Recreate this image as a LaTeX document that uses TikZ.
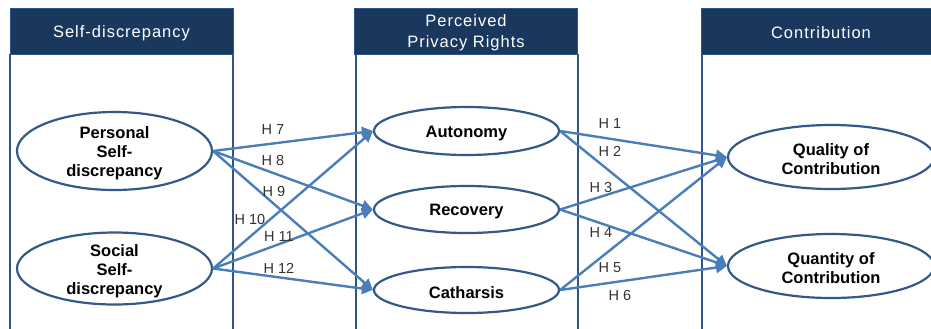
\documentclass[tikz,border=0pt]{standalone}
\usepackage{fontspec}
\setmainfont{Liberation Sans}
\usetikzlibrary{shapes.geometric,arrows.meta}

\definecolor{hdrblue}{RGB}{26,56,94}
\definecolor{panelblue}{RGB}{47,84,140}
\definecolor{ellblue}{RGB}{52,88,138}
\definecolor{arrblue}{RGB}{74,126,187}
\definecolor{labgray}{RGB}{50,50,50}

\tikzset{
  header/.style={fill=hdrblue, draw=panelblue, line width=0.8pt, inner sep=0pt},
  hdrtext/.style={text=white, font=\fontsize{16.5}{21}\selectfont\addfontfeatures{LetterSpace=6},
    align=center, inner sep=0pt},
  panel/.style={draw=panelblue, line width=1.2pt},
  var/.style={ellipse, draw=ellblue, line width=2.2pt, inner sep=0pt},
  vartext/.style={font=\bfseries\fontsize{16.5}{19}\selectfont, align=center, inner sep=0pt, yshift=-2.5pt},
  hpath/.style={draw=arrblue, line width=2.4pt, -{Triangle[length=11pt,width=11pt]}},
  hyp/.style={text=labgray, font=\fontsize{14.5}{16}\selectfont, inner sep=0pt}
}

\begin{document}
\begin{tikzpicture}[x=1pt,y=-1pt]
\useasboundingbox (0,0) rectangle (931,329);
\clip (0,0) rectangle (931,329);

% column panels
\draw[panel] (10,54) -- (10,340) (233,54) -- (233,340);
\draw[panel] (356,54) -- (356,340) (578,54) -- (578,340);
\draw[panel] (702,54) -- (702,340);

% column headers
\node[header, minimum width=223pt, minimum height=46pt,
  label={[hdrtext, yshift=-2pt]center:Self-discrepancy}] (hself) at (121.5,31) {};
\node[header, minimum width=223pt, minimum height=46pt,
  label={[hdrtext, yshift=-2pt]center:Perceived\\Privacy Rights}] (hpriv) at (466,31) {};
\node[header, minimum width=240pt, minimum height=46pt,
  label={[hdrtext, yshift=-2pt]center:Contribution}] (hcont) at (821,31) {};

% latent variables
\node[var, minimum width=195pt, minimum height=78pt,
  label={[vartext]center:Personal\\Self-\\discrepancy}] (pers) at (114.5,151) {};
\node[var, minimum width=195pt, minimum height=72pt,
  label={[vartext]center:Social\\Self-\\discrepancy}] (soc) at (114.5,268.5) {};

\node[var, minimum width=185pt, minimum height=48pt,
  label={[vartext]center:Autonomy}] (auto) at (466.5,131) {};
\node[var, minimum width=185pt, minimum height=47pt,
  label={[vartext]center:Recovery}] (reco) at (466.5,209.5) {};
\node[var, minimum width=185pt, minimum height=46pt,
  label={[vartext]center:Catharsis}] (cath) at (466.5,290) {};

\node[var, minimum width=206pt, minimum height=64pt,
  label={[vartext]center:Quality of\\Contribution}] (qual) at (831,157) {};
\node[var, minimum width=206pt, minimum height=64pt,
  label={[vartext]center:Quantity of\\Contribution}] (quan) at (831,266) {};

% hypothesised paths
\draw[hpath] (pers.east) -- (auto.west);
\draw[hpath] (pers.east) -- (reco.west);
\draw[hpath] (pers.east) -- (cath.west);
\draw[hpath] (soc.east) -- (auto.west);
\draw[hpath] (soc.east) -- (reco.west);
\draw[hpath] (soc.east) -- (cath.west);

\draw[hpath] (auto.east) -- (qual.west);
\draw[hpath] (auto.east) -- (quan.west);
\draw[hpath] (reco.east) -- (qual.west);
\draw[hpath] (reco.east) -- (quan.west);
\draw[hpath] (cath.east) -- (qual.west);
\draw[hpath] (cath.east) -- (quan.west);

% hypothesis labels
\node[hyp] (h7) at (273,130) {H 7};
\node[hyp] (h8) at (273,161) {H 8};
\node[hyp] (h9) at (274,192) {H 9};
\node[hyp] (h10) at (250,220) {H 10};
\node[hyp] (h11) at (279,237) {H 11};
\node[hyp] (h12) at (279,268) {H 12};

\node[hyp] (h1) at (610,124) {H 1};
\node[hyp] (h2) at (610,151) {H 2};
\node[hyp] (h3) at (601,188) {H 3};
\node[hyp] (h4) at (601,233) {H 4};
\node[hyp] (h5) at (610,268) {H 5};
\node[hyp] (h6) at (620,296) {H 6};
\end{tikzpicture}
\end{document}
